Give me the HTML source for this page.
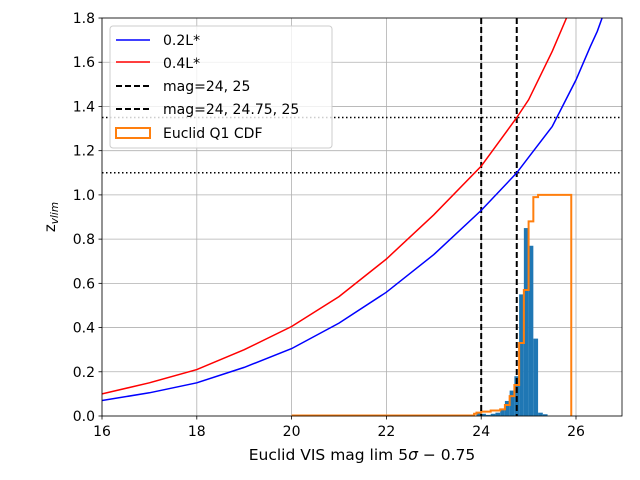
<!DOCTYPE html>
<html><head><meta charset="utf-8"><style>
body{margin:0;background:#fff;}
svg{display:block;font-family:"DejaVu Sans","Liberation Sans",sans-serif;}
</style></head><body>
<svg id="chart" width="640" height="480" viewBox="0 0 640 480" xmlns="http://www.w3.org/2000/svg">
<rect x="0" y="0" width="640" height="480" fill="#fff"/>
<g id="grid"></g>
<g id="hist"></g>
<g id="lines"></g>
<g id="axes"></g>
<text x="362" y="460" font-size="15.5" text-anchor="middle">Euclid VIS mag lim 5<tspan font-style="italic">σ</tspan> − 0.75</text>
<text transform="translate(55,217) rotate(-90)" font-size="15" text-anchor="middle">z<tspan font-size="10.5" font-style="italic" dy="3">vlim</tspan></text>
<g>
<rect x="110" y="26" width="222" height="122" rx="3" fill="#fff" fill-opacity="0.8" stroke="#ccc"/>
<line x1="116" y1="40" x2="150" y2="40" stroke="blue" stroke-width="1.5"/>
<text x="163" y="45" font-size="14">0.2L*</text>
<line x1="116" y1="62" x2="150" y2="62" stroke="red" stroke-width="1.5"/>
<text x="163" y="68" font-size="14">0.4L*</text>
<line x1="116" y1="86" x2="150" y2="86" stroke="#000" stroke-width="2" stroke-dasharray="6,3"/>
<text x="163" y="91" font-size="14">mag=24, 25</text>
<line x1="116" y1="109" x2="150" y2="109" stroke="#000" stroke-width="2" stroke-dasharray="6,3"/>
<text x="163" y="114" font-size="14">mag=24, 24.75, 25</text>
<rect x="116" y="128" width="34" height="10" fill="none" stroke="#ff7f0e" stroke-width="2"/>
<text x="163" y="138" font-size="14">Euclid Q1 CDF</text>
</g>
</svg>
<script>
const xTicks=[16,18,20,22,24,26];
const yTicks=[0,0.2,0.4,0.6,0.8,1.0,1.2,1.4,1.6,1.8];
const blueMag=[16,17,18,19,20,21,22,23,24,24.75,25,25.5,26,26.3,26.45,26.55];
const blueZ=[0.07,0.105,0.15,0.22,0.305,0.42,0.56,0.73,0.93,1.1,1.17,1.31,1.52,1.67,1.74,1.8];
const redMag=[16,17,18,19,20,21,22,23,24,24.75,25,25.5,25.8];
const redZ=[0.1,0.15,0.21,0.3,0.405,0.54,0.71,0.91,1.13,1.35,1.43,1.65,1.8];
const binLeft=[23.9,24.0,24.1,24.2,24.3,24.4,24.5,24.6,24.7,24.8,24.9,25.0,25.1,25.2,25.3];
const histVals=[0.015,0.01,0.005,0.01,0.015,0.03,0.068,0.115,0.18,0.55,0.85,0.77,0.35,0.015,0.008];
const cdfMag=[20,23.85,23.9,24.0,24.2,24.4,24.5,24.6,24.7,24.8,24.9,25.0,25.1,25.2,25.9];
const cdfVals=[0.002,0.01,0.015,0.02,0.025,0.03,0.05,0.09,0.14,0.33,0.57,0.88,0.99,1.0,0];
const vLines=[24,24.75];
const hLines=[1.1,1.35];
const X=v=>102+(v-16)*47.4, Y=v=>416-v*221.1;
const NS='http://www.w3.org/2000/svg';
function mk(t,a,p){const e=document.createElementNS(NS,t);for(const k in a)e.setAttribute(k,a[k]);p.appendChild(e);return e;}
const grid=document.getElementById('grid'),axes=document.getElementById('axes'),hist=document.getElementById('hist'),lines=document.getElementById('lines');
xTicks.forEach(t=>{
 const g=mk('line',{x1:X(t),x2:X(t),y1:18,y2:416,stroke:'#b0b0b0','stroke-width':0.8},grid);
 
 
 mk('line',{x1:X(t),x2:X(t),y1:416,y2:419.5,stroke:'#000','stroke-width':0.8},axes);
 const l=mk('text',{x:X(t),y:436,'font-size':14,'text-anchor':'middle'},axes);l.textContent=t;
 
 
});
yTicks.forEach(t=>{
 const g=mk('line',{x1:102,x2:622,y1:Y(t),y2:Y(t),stroke:'#b0b0b0','stroke-width':0.8},grid);
 
 
 mk('line',{x1:98.5,x2:102,y1:Y(t),y2:Y(t),stroke:'#000','stroke-width':0.8},axes);
 const l=mk('text',{x:95,y:Y(t)+5,'font-size':14,'text-anchor':'end'},axes);l.textContent=t.toFixed(1);
 
 
});
binLeft.forEach((b,i)=>{
 const r=mk('rect',{x:X(b),y:Y(histVals[i]),width:X(b+0.1)-X(b),height:416-Y(histVals[i]),fill:'#1f77b4'},hist);
 
 
});
function path(xs,ys){return xs.map((v,i)=>(i?'L':'M')+X(v).toFixed(1)+','+Y(ys[i]).toFixed(1)).join(' ');}
let d='M'+X(cdfMag[0])+','+Y(cdfVals[0]);
for(let i=1;i<cdfMag.length;i++){d+=' L'+X(cdfMag[i])+','+Y(cdfVals[i-1])+' L'+X(cdfMag[i])+','+Y(cdfVals[i]);}
const cdf=mk('path',{d:d,fill:'none',stroke:'#ff7f0e','stroke-width':2},lines);


vLines.forEach(v=>{const l=mk('line',{x1:X(v),x2:X(v),y1:18,y2:416,stroke:'#000','stroke-width':2,'stroke-dasharray':'6,3'},lines);
 
 });
hLines.forEach(v=>{const l=mk('line',{x1:102,x2:622,y1:Y(v),y2:Y(v),stroke:'#000','stroke-width':1.5,'stroke-dasharray':'1.5,2.5'},lines);
 
 });
const cp=mk('clipPath',{id:'cp'},lines);mk('rect',{x:102,y:18,width:520,height:398},cp);
const b=mk('path',{d:path(blueMag,blueZ),fill:'none',stroke:'blue','stroke-width':1.5,'clip-path':'url(#cp)'},lines);


const r=mk('path',{d:path(redMag,redZ),fill:'none',stroke:'red','stroke-width':1.5,'clip-path':'url(#cp)'},lines);


const f=mk('rect',{x:102,y:18,width:520,height:398,fill:'none',stroke:'#000','stroke-width':0.8},axes);


</script>
</body></html>
